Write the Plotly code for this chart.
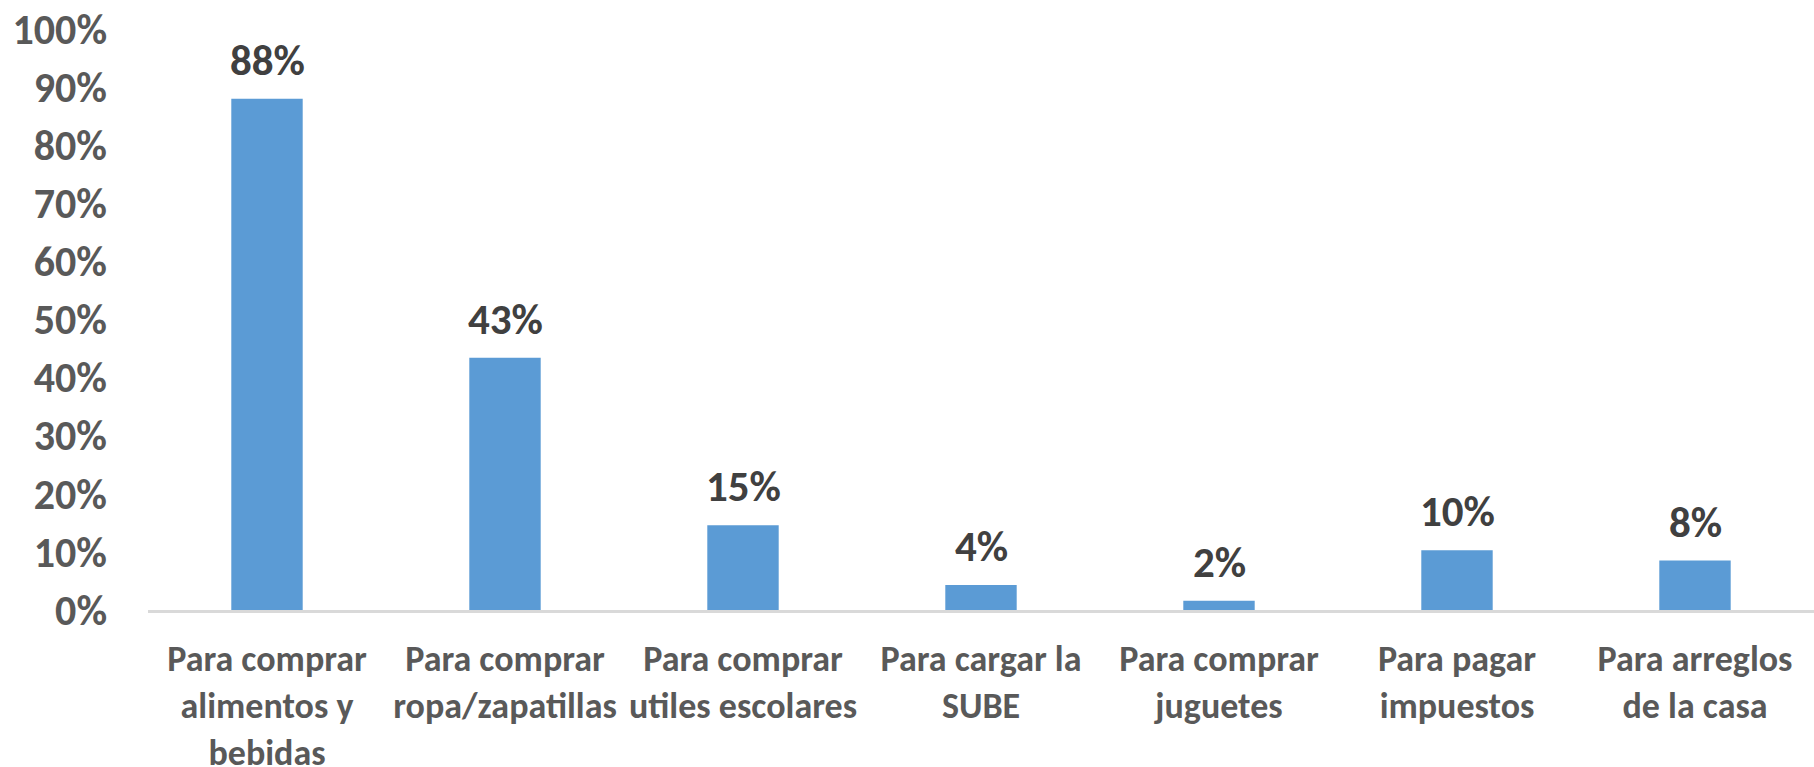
import plotly.graph_objects as go

categories = [
    "Para comprar<br>alimentos y<br>bebidas",
    "Para comprar<br>ropa/zapatillas",
    "Para comprar<br>utiles escolares",
    "Para cargar la<br>SUBE",
    "Para comprar<br>juguetes",
    "Para pagar<br>impuestos",
    "Para arreglos<br>de la casa",
]
values = [0.88, 0.434, 0.146, 0.043, 0.016, 0.103, 0.085]
labels = ["88%", "43%", "15%", "4%", "2%", "10%", "8%"]
y_ticks = [0, 0.1, 0.2, 0.3, 0.4, 0.5, 0.6, 0.7, 0.8, 0.9, 1.0]

FONT = "Carlito, 'Liberation Sans Narrow', 'Arial Narrow', 'Open Sans', sans-serif"

fig = go.Figure()
fig.add_trace(go.Bar(
    x=categories, y=values,
    marker=dict(color="#5B9BD5", line=dict(width=0)),
    hoverinfo="skip",
))

for c, v, t in zip(categories, values, labels):
    fig.add_annotation(
        x=c, y=v, text="<b>%s</b>" % t, showarrow=False,
        yanchor="bottom", yshift=10,
        font=dict(family=FONT, size=43, color="#404040"),
    )

fig.update_layout(
    width=1814, height=767,
    margin=dict(l=148, r=0, t=29, b=157),
    paper_bgcolor="white", plot_bgcolor="white",
    bargap=0.7, showlegend=False,
    font=dict(family=FONT, color="#595959"),
)
fig.update_yaxes(
    range=[0, 1.0], tickvals=y_ticks,
    ticktext=["<b>%d%%</b>" % round(v * 100) for v in y_ticks],
    showgrid=False, zeroline=False, showline=False,
    ticks="", ticklabelstandoff=40, automargin=False,
    tickfont=dict(family=FONT, size=42, color="#595959"),
)
fig.update_xaxes(
    showgrid=False, showline=True, linecolor="#D9D9D9", linewidth=3,
    ticks="", ticklabelstandoff=15, automargin=False,
    tickfont=dict(family=FONT, size=36, color="#595959"),
    tickangle=0,
    tickvals=categories,
    ticktext=["<b>%s</b>" % c.replace("<br>", "</b><br><b>") for c in categories],
)

fig.write_html(
    "out.html",
    config={"displayModeBar": False},
    post_script="document.body.style.margin='0';document.body.style.overflow='hidden';",
)
